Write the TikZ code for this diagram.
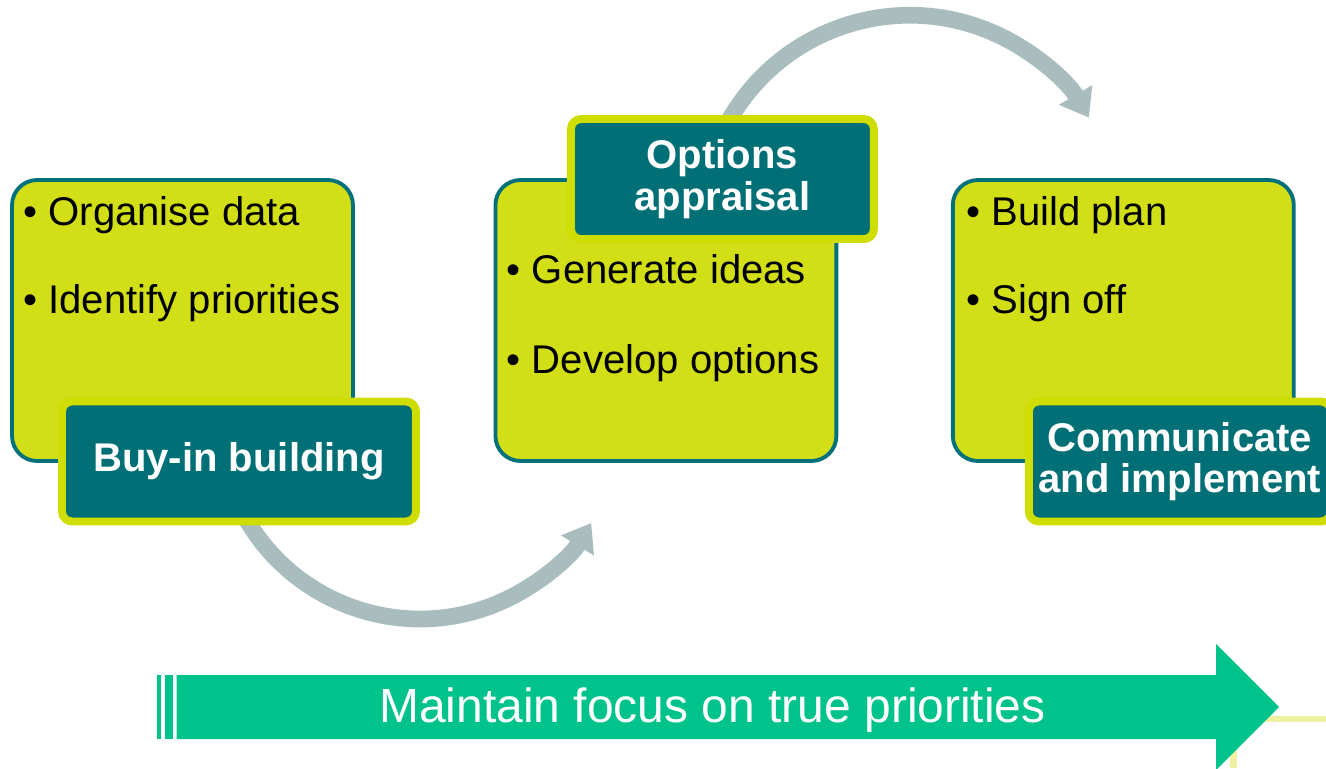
\documentclass[tikz,border=0pt]{standalone}
\usepackage{fontspec}
\setmainfont{Liberation Sans}
\usetikzlibrary{positioning,arrows.meta,shadows,backgrounds,calc}

\definecolor{stagefill}{RGB}{211,223,22}
\definecolor{stageline}{RGB}{0,112,122}
\definecolor{tagfill}{RGB}{0,112,118}
\definecolor{tagline}{RGB}{208,221,0}
\definecolor{flowgray}{RGB}{169,188,190}
\definecolor{focusgreen}{RGB}{0,194,139}
\definecolor{paleyellow}{RGB}{238,242,160}

\begin{document}
\begin{tikzpicture}[x=0.02cm,y=-0.02cm,on grid,
   stage/.style={draw=stageline,fill=stagefill,line width=2.2pt,rounded corners=0.5cm,
                 minimum width=6.82cm,minimum height=5.62cm},
   tag/.style={draw=tagline,fill=tagfill,line width=4.5pt,rounded corners=0.2cm,
               minimum height=2.4cm,text=white,align=center,
               font=\bfseries\fontsize{22.8}{23.5}\selectfont,
               drop shadow={opacity=0.3,shadow xshift=1.5pt,shadow yshift=-1.5pt}},
   item/.style={anchor=base west,inner sep=0pt,font=\fontsize{22.8}{27}\selectfont},
   flow/.style={draw=flowgray,line width=9.5pt,-{Triangle[length=15pt,width=21pt]}}]
   \useasboundingbox (0,0) rectangle (1326,768);
   \clip (0,0) rectangle (1326,768);

   \node[stage] (s_1) at (182.5,320.5)       {};
   \node[stage] (s_2) [right=9.67cm of s_1]  {};
   \node[stage] (s_3) [right=9.15cm of s_2]  {};

   \node[item] (b_11) at ($(s_1.north west)+(13,47)$)  {\textbullet\ Organise data};
   \node[item] (b_12) at ($(s_1.north west)+(13,135)$) {\textbullet\ Identify priorities};
   \node[item] (b_21) at ($(s_2.north west)+(13,105)$) {\textbullet\ Generate ideas};
   \node[item] (b_22) at ($(s_2.north west)+(13,195)$) {\textbullet\ Develop options};
   \node[item] (b_31) at ($(s_3.north west)+(15,47)$)  {\textbullet\ Build plan};
   \node[item] (b_32) at ($(s_3.north west)+(15,135)$) {\textbullet\ Sign off};

   \node[tag,minimum width=7.08cm] (l_1) [below right=2.82cm and 1.13cm of s_1] {Buy-in building};
   \node[tag,minimum width=6.06cm] (l_2) [above right=2.83cm and 1.13cm of s_2] {Options\\appraisal};
   \node[tag,minimum width=6.04cm] (l_3) [below right=2.82cm and 1.13cm of s_3] {Communicate\\and implement};

   \begin{scope}[on background layer]
     \draw[flow] ([yshift=-0.88cm]l_1.center) arc[start angle=205.8,end angle=328.5,radius=4.02cm];
     \draw[flow] ([yshift=0.92cm]l_2.center)  arc[start angle=154.3,end angle=30.5,radius=4.16cm];
   \end{scope}

   % focus banner
   \draw[paleyellow,line width=3.6pt] (1326,719) -- (1233.5,719) -- (1233.5,768);
   \fill[focusgreen] (156.7,675) rectangle (160.7,739);
   \fill[focusgreen] (165,675) rectangle (172.7,739);
   \fill[focusgreen] (176.7,675) -- (1216,675) -- (1216,644) -- (1279,707)
                     -- (1216,770) -- (1216,739) -- (176.7,739) -- cycle;
   \node[text=white,font=\fontsize{27.3}{32}\selectfont] (focus) at (712.5,710)
        {Maintain focus on true priorities};
\end{tikzpicture}
\end{document}
